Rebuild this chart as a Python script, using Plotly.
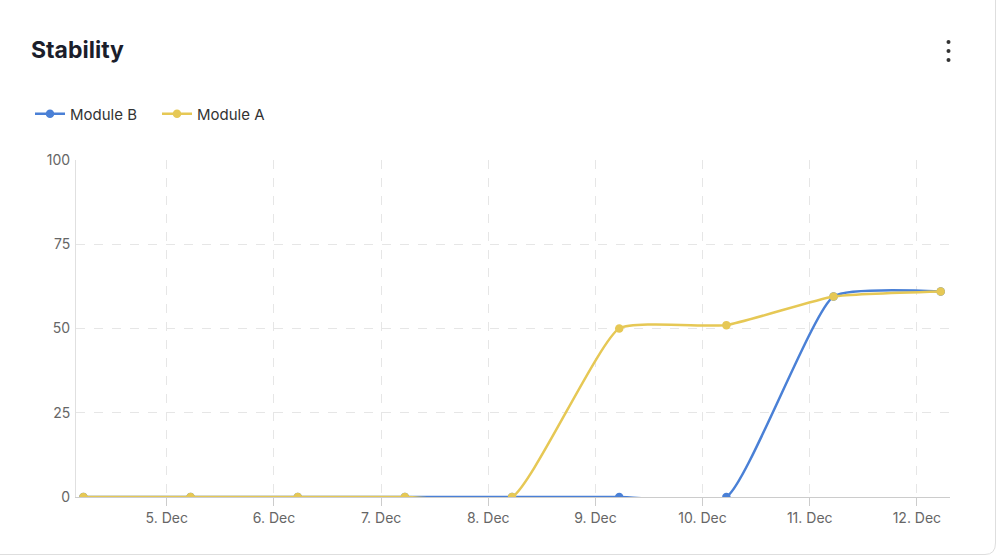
import plotly.graph_objects as go

# data
dates = ["2024-12-04 05:20", "2024-12-05 05:20", "2024-12-06 05:20",
         "2024-12-07 05:20", "2024-12-08 05:20", "2024-12-09 05:20",
         "2024-12-10 05:20", "2024-12-11 05:20", "2024-12-12 05:20"]
module_b = [0, 0, 0, 0, 0, 0, 0, 59.5, 61]
module_a = [0, 0, 0, 0, 0, 50, 51, 59.5, 61]
tick_days = ["2024-12-05", "2024-12-06", "2024-12-07", "2024-12-08",
             "2024-12-09", "2024-12-10", "2024-12-11", "2024-12-12"]
y_ticks = [0, 25, 50, 75, 100]

BLUE = "#4a80d6"
YELLOW = "#e6c855"
FONT = "Inter"

fig = go.Figure()
fig.add_trace(go.Scatter(x=dates, y=module_b, name="Module B", mode="lines+markers",
                         line=dict(color=BLUE, width=2.5, shape="spline", smoothing=0.45),
                         marker=dict(size=8.5, color=BLUE)))
fig.add_trace(go.Scatter(x=dates, y=module_a, name="Module A", mode="lines+markers",
                         line=dict(color=YELLOW, width=2.5, shape="spline", smoothing=0.45),
                         marker=dict(size=8.5, color=YELLOW)))

# plot area in pixels: x 76..950, y 160..497
L, R, T, B = 76, 48, 160, 61
W, H = 998, 558
pw, ph = W - L - R, H - T - B

def px(x):
    return (x - L) / pw

def py(y):
    return (H - B - y) / ph

fig.update_layout(
    width=W, height=H,
    margin=dict(l=L, r=R, t=T, b=B, autoexpand=False),
    paper_bgcolor="white", plot_bgcolor="white",
    font=dict(family=FONT, color="#666666", size=14),
    title=dict(text="<b>Stability</b>", x=31 / W, xref="container", xanchor="left",
               y=1 - 50 / H, yref="container", yanchor="middle",
               font=dict(family=FONT, size=23, color="#1b1e2b")),
    showlegend=True,
    legend=dict(orientation="h", x=px(30), xanchor="left", y=py(114), yanchor="middle",
                font=dict(family=FONT, size=15, color="#333333"),
                entrywidth=82, entrywidthmode="pixels",
                tracegroupgap=0, bgcolor="rgba(0,0,0,0)"),
    hovermode=False,
)

fig.update_xaxes(
    type="date",
    range=["2024-12-04 03:40", "2024-12-12 07:25"],
    tickvals=tick_days, tickformat="%-d. %b",
    showgrid=True, gridcolor="#e6e6e6", griddash="dash", gridwidth=1,
    showline=True, linecolor="#cccccc", linewidth=1,
    ticks="outside", ticklen=8, tickcolor="#cccccc",
    tickfont=dict(size=14, color="#666666"), zeroline=False,
)
fig.update_yaxes(
    range=[0, 100], tickvals=y_ticks,
    showgrid=True, gridcolor="#e6e6e6", griddash="dash", gridwidth=1,
    showline=True, linecolor="#e0e0e0", linewidth=1,
    ticks="", ticklabelstandoff=2,
    tickfont=dict(size=14, color="#666666"), zeroline=False,
)

# kebab menu icon
for yy in [42, 51, 60]:
    fig.add_shape(type="circle", xref="paper", yref="paper",
                  x0=px(946.5), x1=px(950.5), y0=py(yy + 2), y1=py(yy - 2),
                  fillcolor="#333333", line=dict(width=0))

# card border (right and bottom edges)
fig.add_shape(type="path", xref="paper", yref="paper", layer="below",
              path=f"M {px(995.5)},{py(-5)} "
                   f"L {px(995.5)},{py(543)} Q {px(995.5)},{py(554.5)} {px(985)},{py(554.5)} "
                   f"L {px(-5)},{py(554.5)}",
              line=dict(color="#dedede", width=1))

fig.write_html("out.html", config={"displayModeBar": False},
               post_script="document.body.style.margin='0';")
